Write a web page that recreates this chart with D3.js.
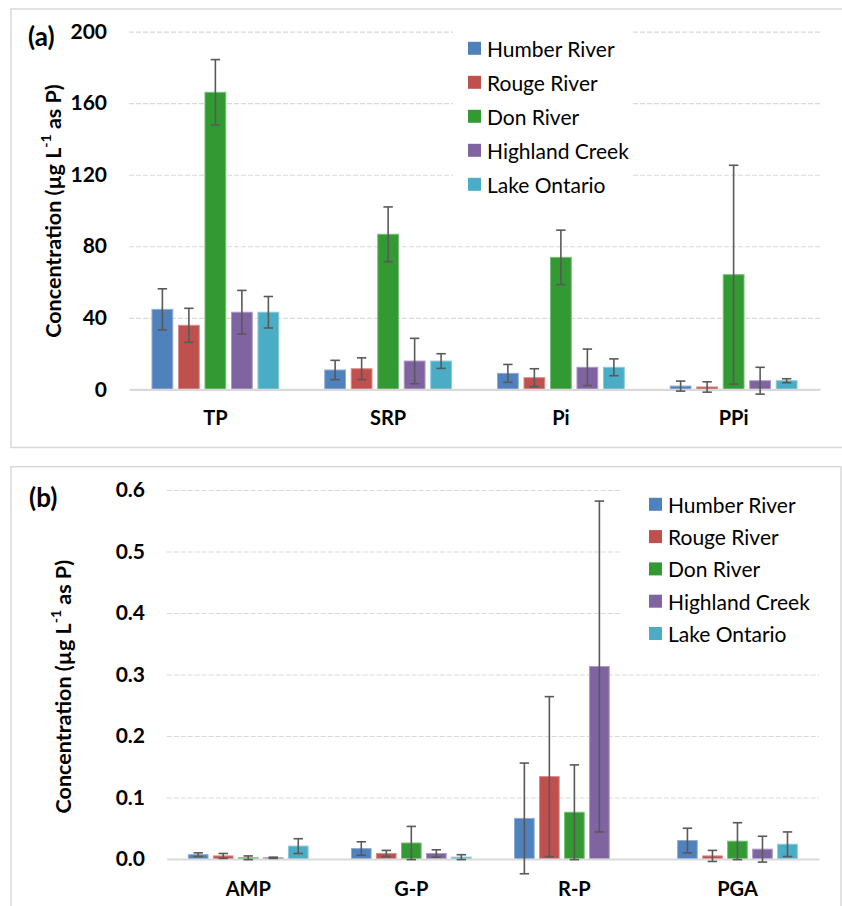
<!DOCTYPE html>
<html>
<head>
<meta charset="utf-8">
<script src="https://cdn.jsdelivr.net/npm/d3@7"></script>
<style>
  html, body { margin: 0; padding: 0; background: #fff; }
  svg { display: block; font-family: Lato, "Open Sans", sans-serif; }
</style>
</head>
<body>
<svg id="chart" width="842" height="906"></svg>
<script>
// ---------- data ----------
const seriesNames = ["Humber River", "Rouge River", "Don River", "Highland Creek", "Lake Ontario"];
const seriesColors = ["#4f81bd", "#c0504d", "#339933", "#8064a2", "#4bacc6"];

const categoriesA = ["TP", "SRP", "Pi", "PPi"];
const humberA = [44.7, 10.8, 8.9, 1.8];
const rougeA = [35.8, 11.5, 6.5, 1.3];
const donA = [166.1, 86.7, 73.8, 64.1];
const highlandA = [43.1, 15.8, 12.3, 4.8];
const lakeA = [43.1, 15.8, 12.3, 4.8];
const humberAErr = [11.5, 5.4, 5.0, 2.8];
const rougeAErr = [9.5, 6.1, 5.0, 2.9];
const donAErr = [18.3, 15.3, 15.2, 61.2];
const highlandAErr = [12.2, 12.7, 10.2, 7.5];
const lakeAErr = [8.8, 4.1, 4.7, 1.1];
const ticksA = [0, 40, 80, 120, 160, 200];

const categoriesB = ["AMP", "G-P", "R-P", "PGA"];
const humberB = [0.007, 0.017, 0.066, 0.030];
const rougeB = [0.005, 0.009, 0.134, 0.005];
const donB = [0.002, 0.026, 0.076, 0.029];
const highlandB = [0.002, 0.009, 0.313, 0.016];
const lakeB = [0.021, 0.003, 0.0, 0.024];
const humberBErr = [0.003, 0.011, 0.090, 0.020];
const rougeBErr = [0.004, 0.005, 0.130, 0.009];
const donBErr = [0.003, 0.027, 0.077, 0.030];
const highlandBErr = [0.001, 0.006, 0.269, 0.021];
const lakeBErr = [0.012, 0.004, 0.0, 0.020];
const ticksB = [0, 0.1, 0.2, 0.3, 0.4, 0.5, 0.6];

// ---------- drawing ----------
const svg = d3.select("#chart");

function lighten(c) { return d3.interpolateRgb(c, "#ffffff")(0.35); }

function drawPanel(cfg) {
  const g = svg.append("g");
  // frame
  g.append("rect")
    .attr("x", cfg.frame[0]).attr("y", cfg.frame[1])
    .attr("width", cfg.frame[2]).attr("height", cfg.frame[3])
    .attr("fill", "none").attr("stroke", "#d9d9d9").attr("stroke-width", 1.5);

  const x0 = d3.scaleBand().domain(cfg.categories).range([cfg.left, cfg.right]).padding(0);
  const x1 = d3.scaleBand().domain(seriesNames).range([0, x0.bandwidth()])
    .paddingInner(0.215).paddingOuter(0.867);
  const y = d3.scaleLinear().domain(cfg.domain).range([cfg.bottom, cfg.top]);

  // gridlines
  const grid = g.append("g").attr("transform", `translate(${cfg.left},0)`)
    .call(d3.axisLeft(y).tickValues(cfg.ticks.filter(t => t !== 0))
      .tickSize(-(cfg.right - cfg.left)).tickFormat(""));
  grid.select(".domain").remove();
  grid.selectAll("line").attr("stroke", "#d9d9d9").attr("stroke-width", 1.2)
    .attr("stroke-dasharray", "5,2");

  // legend background box (hides grid)
  g.append("rect")
    .attr("x", cfg.legendBox[0]).attr("y", cfg.legendBox[1])
    .attr("width", cfg.legendBox[2]).attr("height", cfg.legendBox[3])
    .attr("fill", "#fff");

  // y tick labels
  const yAxis = g.append("g").attr("transform", `translate(${cfg.left},0)`)
    .call(d3.axisLeft(y).tickValues(cfg.ticks).tickSize(0).tickPadding(cfg.tickPad)
      .tickFormat(cfg.tickFormat));
  yAxis.select(".domain").remove();
  yAxis.selectAll("text").attr("font-family", "Lato, sans-serif").attr("font-weight", "bold")
    .attr("font-size", 21).attr("fill", "#000");

  // bars
  cfg.values.forEach((vals, si) => {
    const name = seriesNames[si];
    const col = seriesColors[si];
    const sg = g.append("g");
    sg.selectAll("rect").data(vals).join("rect")
      .attr("x", (d, i) => x0(cfg.categories[i]) + x1(name))
      .attr("y", d => y(Math.max(d, 0)))
      .attr("width", x1.bandwidth())
      .attr("height", d => Math.abs(y(0) - y(d)))
      .attr("fill", col)
      .attr("stroke", lighten(col)).attr("stroke-width", 1);
  });

  // x axis baseline
  const xAxis = g.append("g").attr("transform", `translate(0,${cfg.bottom})`)
    .call(d3.axisBottom(x0).tickSize(0).tickPadding(cfg.catPad));
  xAxis.select(".domain").attr("stroke", "#d9d9d9").attr("stroke-width", 2.2);
  xAxis.selectAll("text").attr("font-family", "Lato, sans-serif").attr("font-weight", "bold")
    .attr("font-size", 20).attr("fill", "#000");

  // error bars
  cfg.values.forEach((vals, si) => {
    const name = seriesNames[si];
    const errs = cfg.errors[si];
    const eg = g.append("g").attr("stroke", "#595959").attr("stroke-width", 1.6);
    vals.forEach((v, i) => {
      const e = errs[i];
      if (!e) return;
      const cx = x0(cfg.categories[i]) + x1(name) + x1.bandwidth() / 2;
      const yt = y(v + e), yb = y(v - e);
      eg.append("line").attr("x1", cx).attr("x2", cx).attr("y1", yt).attr("y2", yb);
      eg.append("line").attr("x1", cx - 4.7).attr("x2", cx + 4.7).attr("y1", yt).attr("y2", yt);
      eg.append("line").attr("x1", cx - 4.7).attr("x2", cx + 4.7).attr("y1", yb).attr("y2", yb);
    });
  });

  // panel label
  g.append("text").attr("x", cfg.labelPos[0]).attr("y", cfg.labelPos[1])
    .attr("font-family", "Lato, sans-serif").attr("font-weight", "bold")
    .attr("font-size", 26).attr("fill", "#000").text(cfg.label);

  // y axis title
  const t = g.append("text")
    .attr("transform", `translate(${cfg.titlePos[0]},${cfg.titlePos[1]}) rotate(-90)`)
    .attr("text-anchor", "middle").attr("dominant-baseline", "central")
    .attr("font-family", "Lato, sans-serif").attr("font-weight", "bold")
    .attr("font-size", 21.5).attr("fill", "#000");
  t.append("tspan").text("Concentration (µg L");
  t.append("tspan").attr("font-size", 14).attr("dy", -8).text("-1");
  t.append("tspan").attr("dy", 8).text(" as P)");

  // legend
  const lg = g.append("g");
  seriesNames.forEach((n, i) => {
    const cy = cfg.legend[1] + i * cfg.legend[2];
    lg.append("rect").attr("x", cfg.legend[0]).attr("y", cy - 6.5)
      .attr("width", 13).attr("height", 13).attr("fill", seriesColors[i]);
    lg.append("text").attr("x", cfg.legend[0] + 19).attr("y", cy)
      .attr("dominant-baseline", "central")
      .attr("font-family", "Lato, sans-serif").attr("font-size", 21).attr("fill", "#000")
      .text(n);
  });
}

drawPanel({
  frame: [11, 9, 845, 438.5],
  categories: categoriesA,
  values: [humberA, rougeA, donA, highlandA, lakeA],
  errors: [humberAErr, rougeAErr, donAErr, highlandAErr, lakeAErr],
  ticks: ticksA,
  tickFormat: d3.format("d"),
  domain: [0, 200],
  left: 129, right: 820, top: 31.7, bottom: 389.3,
  tickPad: 22, catPad: 21.5,
  legendBox: [453, 24, 180, 155],
  legend: [468, 48.3, 34],
  label: "(a)", labelPos: [28, 46],
  titlePos: [53, 211]
});

drawPanel({
  frame: [11, 466.7, 830, 460],
  categories: categoriesB,
  values: [humberB, rougeB, donB, highlandB, lakeB],
  errors: [humberBErr, rougeBErr, donBErr, highlandBErr, lakeBErr],
  ticks: ticksB,
  tickFormat: d3.format(".1f"),
  domain: [0, 0.6],
  left: 166.7, right: 819, top: 490, bottom: 859,
  tickPad: 21.7, catPad: 22.3,
  legendBox: [620, 480, 215, 170],
  legend: [649, 504.3, 32.3],
  label: "(b)", labelPos: [29, 507],
  titlePos: [63, 686.7]
});
</script>
</body>
</html>
